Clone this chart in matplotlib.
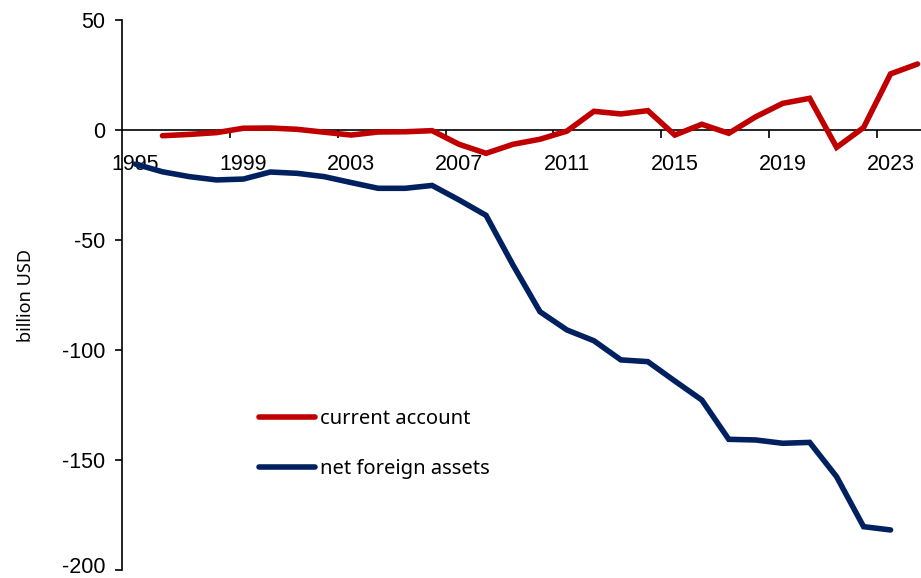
import matplotlib
matplotlib.use("Agg")
import matplotlib.pyplot as plt
import matplotlib.transforms as mtransforms
from matplotlib.ticker import FixedLocator, NullFormatter

# Annual data, billion USD
years_ca = list(range(1996, 2025))
current_account = [-2.6, -2.0, -1.2, 0.8, 0.9, 0.3, -1.0, -2.3, -0.9, -0.8, -0.3,
                   -6.5, -10.6, -6.5, -4.2, -0.5, 8.5, 7.3, 8.8, -2.3, 2.6,
                   -1.5, 6.0, 12.1, 14.4, -7.9, 1.1, 25.5, 30.0]

years_nfa = list(range(1995, 2024))
net_foreign_assets = [-15.5, -19.0, -21.2, -22.7, -22.3, -19.1, -19.7, -21.2,
                      -23.9, -26.5, -26.5, -25.2, -31.8, -38.8, -61.4, -82.6,
                      -90.9, -95.8, -104.5, -105.3, -114.1, -122.7, -140.6,
                      -140.9, -142.4, -142.0, -157.6, -180.3, -181.8]

label_years = [1995, 1999, 2003, 2007, 2011, 2015, 2019, 2023]
y_ticks = [50, 0, -50, -100, -150, -200]

RED = "#C00000"
NAVY = "#002060"
TICK_FONT = "Liberation Sans"
TEXT_FONT = "Noto Sans"

fig = plt.figure(figsize=(9.21, 5.78), dpi=100)
ax = fig.add_axes([122 / 921, 1 - 570 / 578, (931 - 122) / 921, 550 / 578])

ax.plot(years_ca, current_account, color=RED, lw=4, solid_capstyle="round",
        solid_joinstyle="miter", label="current account", zorder=3)
ax.plot(years_nfa, net_foreign_assets, color=NAVY, lw=4, solid_capstyle="round",
        solid_joinstyle="miter", label="net foreign assets", zorder=3)

ax.set_xlim(1994.5, 2024.5)
ax.set_ylim(-200, 50)

# spines: category axis drawn at zero
for s in ("top", "right"):
    ax.spines[s].set_visible(False)
ax.spines["bottom"].set_position(("data", 0))
ax.spines["bottom"].set_linewidth(1.2)
ax.spines["left"].set_linewidth(1.2)

# y axis
ax.set_yticks(y_ticks)
ylabels = ax.set_yticklabels([str(v) for v in y_ticks], fontfamily=TICK_FONT,
                             fontsize=15.5)
ax.tick_params(axis="y", direction="out", length=5, width=1.2, pad=7)
# keep the bottom label inside the canvas
bottom_lbl = ax.get_yticklabels()[-1]
bottom_lbl.set_transform(bottom_lbl.get_transform() +
                         mtransforms.ScaledTranslation(0, 5 / 100, fig.dpi_scale_trans))

# x axis: tick marks between categories, labels centred on categories
boundaries = [y - 0.5 for y in label_years[1:]]
ax.xaxis.set_major_locator(FixedLocator(boundaries))
ax.xaxis.set_major_formatter(NullFormatter())
ax.xaxis.set_minor_locator(FixedLocator(label_years))
ax.set_xticklabels([str(y) for y in label_years], minor=True,
                   fontfamily=TICK_FONT, fontsize=15.5)
ax.tick_params(axis="x", which="major", direction="out", length=6, width=1.2)
ax.tick_params(axis="x", which="minor", length=0, pad=17)

ax.set_ylabel("billion USD", fontfamily=TEXT_FONT, fontsize=13)
ax.yaxis.set_label_coords(-0.107, 0.5)

leg = ax.legend(loc="center left", bbox_to_anchor=(0.16, 0.229), frameon=False,
                prop={"family": TEXT_FONT, "size": 14.5}, handlelength=2.75,
                handletextpad=0.25, labelspacing=1.45, borderaxespad=0)

fig.savefig("out.png", dpi=100)
